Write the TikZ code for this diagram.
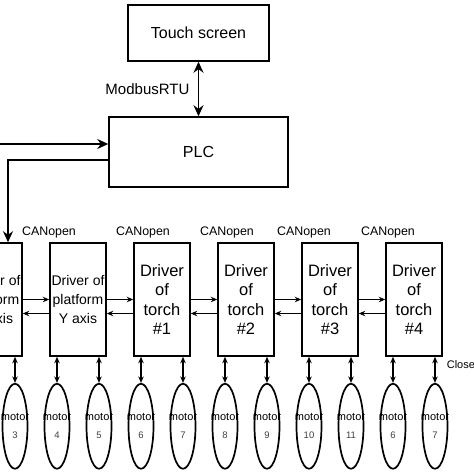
\documentclass[tikz,border=0pt]{standalone}
\usepackage{fontspec}
\setmainfont{Liberation Sans}
\usetikzlibrary{arrows.meta,positioning,shapes.geometric}

\begin{document}
\begin{tikzpicture}[x=1pt,y=-1pt,line width=1.5pt,
    >={Stealth[length=6.5pt,width=5.5pt]},
    block/.style={draw,rectangle,align=center,inner sep=1pt},
    driver/.style={block,minimum width=56pt,minimum height=113pt},
    platform/.style={driver,font=\fontsize{14}{19}\selectfont},
    torch/.style={driver,font=\fontsize{16.5}{19.5}\selectfont},
    motor/.style={draw,ellipse,minimum width=25pt,minimum height=85pt,line width=1.7pt,
                  inner sep=0pt,align=center,font=\fontsize{11}{12}\selectfont},
    oneway/.style={-{Stealth[length=11pt,width=10pt]}},
    twoway/.style={{Stealth[length=11pt,width=10pt]}-{Stealth[length=11pt,width=10pt]}}]
  \useasboundingbox (0,0) rectangle (474,474);
  \clip (0,0) rectangle (474,474);

  \node[block,minimum width=141pt,minimum height=56pt,font=\fontsize{16}{19}\selectfont] (touch) at (198.5,33) {Touch screen};
  \node[block,minimum width=179pt,minimum height=70pt,font=\fontsize{16}{19}\selectfont] (plc) at (198.5,152) {PLC};
  \draw[twoway] (touch) -- (plc) node[midway,left=5pt,font=\fontsize{15}{17}\selectfont] {ModbusRTU};

  % drivers
  \node[platform] (drvX) at (-6,299.5) {Driver of\\platform\\X axis};
  \node[platform] (drvY) [right=26.5pt of drvX] {Driver of\\platform\\Y axis};
  \node[torch] (torch1) [right=26.5pt of drvY] {Driver\\of\\torch\\\#1};
  \node[torch] (torch2) [right=26.5pt of torch1] {Driver\\of\\torch\\\#2};
  \node[torch] (torch3) [right=26.5pt of torch2] {Driver\\of\\torch\\\#3};
  \node[torch] (torch4) [right=26.5pt of torch3] {Driver\\of\\torch\\\#4};

  % PLC in and out
  \coordinate (src) at (-2,144);
  \coordinate (busx) at (8,0);
  \draw[oneway] (src) -- (src -| plc.west);
  \draw[oneway] ([yshift=-8pt]plc.west) -| (busx |- drvX.north);

  % CANopen chain
  \foreach \a/\b/\s in {drvX/drvY/-29,drvY/torch1/-19,torch1/torch2/-19,torch2/torch3/-26,torch3/torch4/-26}{
    \draw[->] (\a.east) -- (\b.west);
    \draw[->] ([yshift=-14pt]\b.west) -- ([yshift=-14pt]\a.east);
    \node[anchor=south,font=\fontsize{12.4}{14}\selectfont] at ([xshift=\s pt]\b.north) {CANopen};
  }

  % motors
  \newcommand\motortext[1]{\makebox[0pt]{motor}\\[6pt]\makebox[0pt]{\color{black!75}\fontsize{9.5}{10}\selectfont #1}}
  \node[motor] (drvX-r) at ([xshift=21pt,yshift=-69.5pt]drvX.south) {\motortext{3}};
  \draw[<->] (drvX-r.north) -- (drvX-r.north |- drvX.south);
  \foreach \b/\l/\r in {drvY/4/5,torch1/6/7,torch2/8/9,torch3/10/11,torch4/6/7}{
    \node[motor] (\b-l) at ([xshift=-21pt,yshift=-69.5pt]\b.south) {\motortext{\l}};
    \node[motor] (\b-r) at ([xshift=21pt,yshift=-69.5pt]\b.south) {\motortext{\r}};
    \draw[<->] (\b-l.north) -- (\b-l.north |- \b.south);
    \draw[<->] (\b-r.north) -- (\b-r.north |- \b.south);
  }

  \node[anchor=north west,font=\fontsize{11}{13}\selectfont] (close) at (torch4.south east) {Close};
\end{tikzpicture}
\end{document}
